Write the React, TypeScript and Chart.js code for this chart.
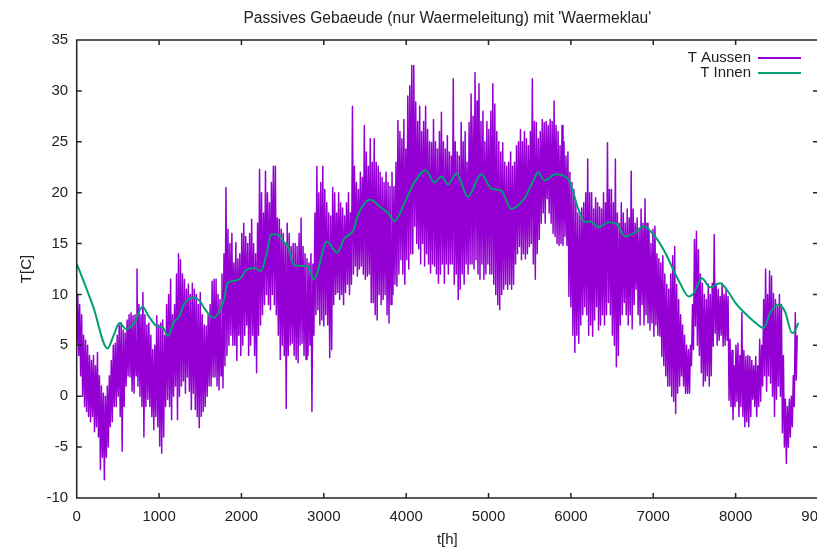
import { useEffect, useRef } from "react";
import { Chart, registerables } from "chart.js";

Chart.register(...registerables);

const TITLE = "Passives Gebaeude (nur Waermeleitung) mit 'Waermeklau'";
const X_LABEL = "t[h]";
const Y_LABEL = "T[C]";
const SERIES_NAMES = ["T Aussen", "T Innen"];
const X_TICKS = [0, 1000, 2000, 3000, 4000, 5000, 6000, 7000, 8000, 9000];
const Y_TICKS = [-10, -5, 0, 5, 10, 15, 20, 25, 30, 35];

// outside temperature: daily highs and lows (day 0 starts at t = 0 h)
const HOURS_PER_DAY = 24;
const aussenHigh = [
  10, 9, 8, 6, 5.5, 5, 4, 3.5, 4, 3,
  4.3, 2, 1, 0.3, 0, 1, 2, 3.5, 5, 5.2,
  6, 7, 7.2, 6.5, 6.2, 7.5, 8, 8.2, 7.9, 8,
  12.5, 9, 8, 10.2, 8, 7, 7.2, 6, 4.6, 5,
  7.9, 7, 7.2, 7.5, 6, 9, 10, 11.5, 8, 9,
  12, 14, 13.4, 12, 11.5, 10.5, 11, 10, 11.1, 10.5,
  10, 9, 10.2, 8, 7, 6.9, 8, 9, 11.3, 11.5,
  11.5, 10, 9.5, 12, 14, 20.5, 16.4, 15, 16, 13.1,
  15.1, 13.5, 14, 16, 17, 15.7, 15, 16, 17.4, 15,
  14, 17, 22.3, 20, 18, 22.1, 20, 19, 21, 22.6,
  22.6, 17.5, 17.4, 16.4, 16, 15, 17, 16, 14.7, 15,
  15, 14.7, 16, 17.5, 14.7, 14, 13.5, 13.1, 14, 13,
  18, 22.6, 20, 21, 22.6, 20.3, 19, 18, 17.7, 20.5,
  20, 18, 20, 19, 18.5, 17.7, 19, 20, 18, 28.5,
  22.6, 21, 20.3, 22, 21.5, 26.6, 24, 22.6, 25.3, 23,
  25.3, 23, 22.6, 22, 21.5, 21, 22, 21, 20.6, 22,
  20.6, 23, 27.1, 26, 25.3, 27.2, 24.3, 29.5, 30.5, 32.5,
  32.5, 28.9, 27, 28.5, 26, 27, 28.5, 26.2, 25, 24.9,
  27.2, 25, 24.3, 26, 27.9, 25, 24.3, 25.6, 24, 23.6,
  31.2, 25, 24, 23.6, 26.9, 25, 26, 23, 26.9, 29.7,
  27.5, 31.8, 29, 30.7, 27, 28, 25, 27, 26.2, 28,
  30.7, 28.7, 26, 25, 24, 24.9, 23, 22.6, 23, 24,
  22.6, 23, 24.6, 25, 26.2, 25, 26, 25.3, 24.6, 26,
  31.2, 27, 26.9, 25.3, 26, 27.2, 26.9, 27, 26.6, 27.2,
  27, 29, 26.6, 26, 24.6, 26.6, 25, 23.6, 24, 22,
  21, 20.3, 19, 18, 17.7, 18.5, 19, 20, 23.3, 20,
  20, 18.4, 19.5, 19, 18.6, 18.4, 20, 19, 24.9, 20.3,
  20.3, 19, 23.3, 18, 17, 19, 18, 17, 18.4, 17.5,
  22.1, 18.4, 17, 17.5, 16.4, 18.4, 17, 19.4, 17, 16.4,
  15, 16.4, 16.7, 14, 13.5, 13.1, 13.8, 12, 11, 10.5,
  12, 13.8, 14.7, 11, 9.5, 8, 7, 6, 5, 4.6,
  5, 9, 15.4, 16.2, 14.4, 12, 11.1, 10, 9.5, 11,
  10, 11.1, 15.9, 11, 10.5, 9.8, 11.1, 10, 10.5, 9.8,
  5.6, 4.5, 3, 5, 5.2, 4, 8.2, 4.5, 3.9, 4,
  3.9, 3.5, 3, 3.9, 3, 5.6, 5, 9.5, 12.5, 10,
  12.3, 11.8, 10.1, 9.5, 8.8, 10, 9, 4, -0.3, -1,
  -0.3, 0, 2, 8.2, 6,
];
const aussenLow = [
  5, 4, 2, 0, -1, -1.5, -2, -2.5, -2, -3.5,
  -3, -4, -7.2, -6, -8.2, -6, -5, -3, -2.5, -1,
  -1, 0, -2, -5.4, -1, 1, 2, 1.9, 0.5, 0.3,
  2, 1, 0, -1, -4, -1, -0.3, -1, -2, -3.3,
  -2, -3, -4.9, -5.6, -4, -1, -0.3, -1, -2.3, 0,
  1, -2.3, 0, 1, 1.5, 0.3, 1.9, 0.5, -1.3, 0.3,
  -1.3, -2, -3.1, -2, -1.5, -1, 0, 1, 1, 1.9,
  1.9, 1, 0.6, 2, 0.8, 3, 4, 5, 6, 5,
  5, 3.5, 6, 4, 5, 6, 7, 4, 5, 6,
  4, 2.3, 6, 7, 8, 9, 10, 9, 8.5, 10,
  9, 8, 6, 3.6, 5, 4, -1.2, 4, 5, 5.2,
  4, 3.6, 3.3, 5, 5.2, 4, 3.6, 4, 5, -1.5,
  6, 8, 8.5, 7, 7.5, 6.9, 8, 7, 3.8, 4.6,
  9, 10, 10.2, 9.5, 10, 9, 10.2, 11, 10, 11,
  12, 12.8, 11.8, 12.5, 12.8, 12, 11.5, 11.8, 12, 9.2,
  9.2, 8, 7.5, 10, 9, 9.5, 10, 8, 7.2, 9,
  10, 11, 10.8, 12, 13.4, 12, 11, 13.4, 12.5, 14,
  14, 16.7, 15, 14.5, 13, 15, 12.8, 14, 13, 12.1,
  13, 12.8, 12, 11.1, 12, 13, 11.1, 13, 12, 13,
  13, 11, 12, 9.5, 10.5, 12, 11, 13, 12, 13,
  13, 12.5, 13.4, 12, 11.5, 13, 11.5, 12, 13, 12,
  12, 11, 10, 9, 8.5, 10, 10.5, 11, 10.5, 11,
  10.5, 11, 13, 14, 14.7, 13.4, 14, 13.5, 14, 14.7,
  15, 13, 11.5, 14, 15.4, 17, 18, 17, 19.4, 18,
  17, 16, 15.7, 15, 14.8, 15, 14.8, 15.7, 14.8, 9.8,
  8.8, 6, 4.3, 6, 5.2, 7, 8, 8.8, 8, 6,
  7, 5.9, 7.5, 8.8, 6.5, 7, 8, 7, 8, 9.2,
  8, 6, 5, 2.9, 4, 7, 8, 9.2, 8, 7,
  8, 6.6, 9, 10.5, 8, 7, 9, 7, 8, 7.2,
  6.5, 7.2, 5.9, 7, 6, 5.9, 3.9, 3, 2, 1,
  1, 0, -0.5, -1.7, 0.3, 1, 2, 1, 0.3, 0.3,
  0.3, 3, 4.6, 6.9, 5, 4, 2.3, 1, 1.5, 2,
  1, 2, 4.9, 6.2, 5, 5.5, 6, 4.9, 5, 5.5,
  -0.4, -1, -2.3, -1, -0.5, -2, -1, -2, -3, -2.5,
  -3, -2, -0.3, -1, -2, -1, -0.5, 1, 2, 0.5,
  2, 1.3, 0, -2, -0.3, 1, 0, -3.6, -5, -6.6,
  -5, -4, -3, -1, 1.6,
];

// inside temperature
const innenHours = [
  0, 60, 200, 375, 445, 520, 600, 700, 800, 870, 970, 1050, 1110, 1175, 1250,
  1300, 1415, 1500, 1545, 1660, 1740, 1790, 1830, 1890, 1990, 2060, 2160, 2235,
  2300, 2360, 2440, 2520, 2560, 2640, 2720, 2800, 2880, 3040, 3160, 3250, 3365,
  3410, 3565, 3700, 3780, 3860, 3980, 4100, 4240, 4340, 4430, 4510, 4610, 4750,
  4910, 5035, 5155, 5275, 5440, 5550, 5600, 5680, 5810, 5970, 6090, 6170, 6230,
  6335, 6455, 6555, 6660, 6780, 6880, 7020, 7145, 7245, 7325, 7430, 7490, 7590,
  7690, 7810, 7890, 7995, 8095, 8215, 8340, 8420, 8520, 8600, 8686, 8720, 8760,
];
const innenTemps = [
  13.0, 11.8, 8.8, 4.7, 5.9, 7.2, 6.6, 7.2, 8.8, 7.9, 6.9, 6.7, 5.9, 7.2, 7.9,
  9.0, 9.7, 9.3, 8.7, 7.7, 8.5, 9.5, 11.1, 11.3, 11.6, 12.4, 12.6, 12.3,
  13.8, 15.9, 15.9, 15.1, 14.8, 12.9, 12.8, 12.8, 11.5, 15.2, 14.1, 15.5, 16.4,
  17.7, 19.3, 18.5, 18.0, 17.2, 19.0, 21.0, 22.2, 21.0, 21.6, 20.8, 21.9, 19.6,
  21.8, 20.4, 20.2, 18.4, 19.5, 21.3, 22.0, 21.2, 21.8, 21.3, 18.4, 17.1, 17.2,
  16.6, 17.1, 16.9, 15.7, 16.1, 16.7, 15.7, 14.1, 12.4, 11.1, 9.8, 10.1, 11.6,
  10.7, 11.1, 10.5, 9.2, 8.3, 7.4, 6.7, 8.2, 9.0, 8.3, 6.2, 6.4, 7.2,
];

const COLOR_AUSSEN = "#9400d3";
const COLOR_INNEN = "#009e73";
const INK = "#222222";
const FONT = "'Liberation Sans', Arial, Helvetica, sans-serif";

const aussenPoints: { x: number; y: number }[] = [];
aussenHigh.forEach((hi, d) => {
  aussenPoints.push({ x: d * HOURS_PER_DAY, y: aussenLow[d] });
  aussenPoints.push({ x: d * HOURS_PER_DAY + HOURS_PER_DAY / 2, y: hi });
});

const framePlugin = {
  id: "gnuFrame",
  afterDatasetsDraw(chart: any) {
    const { ctx, chartArea: a, scales } = chart;
    const xs = scales.x;
    const ys = scales.y;
    ctx.save();
    ctx.strokeStyle = INK;
    ctx.lineWidth = 1.5;
    ctx.strokeRect(a.left, a.top, a.right - a.left, a.bottom - a.top);
    const L = 5;
    ctx.beginPath();
    for (const t of xs.ticks) {
      if (t.value === xs.min || t.value === xs.max) continue;
      const px = xs.getPixelForValue(t.value);
      ctx.moveTo(px, a.bottom);
      ctx.lineTo(px, a.bottom - L);
      ctx.moveTo(px, a.top);
      ctx.lineTo(px, a.top + L);
    }
    for (const t of ys.ticks) {
      if (t.value === ys.min || t.value === ys.max) continue;
      const py = ys.getPixelForValue(t.value);
      ctx.moveTo(a.left, py);
      ctx.lineTo(a.left + L, py);
      ctx.moveTo(a.right, py);
      ctx.lineTo(a.right - L, py);
    }
    ctx.stroke();

    // title
    ctx.fillStyle = INK;
    ctx.font = `15.6px ${FONT}`;
    ctx.textAlign = "center";
    ctx.textBaseline = "middle";
    ctx.fillText(TITLE, (a.left + a.right) / 2, 19);

    // key
    ctx.font = `15px ${FONT}`;
    ctx.textAlign = "right";
    const colors = [COLOR_AUSSEN, COLOR_INNEN];
    SERIES_NAMES.forEach((name, i) => {
      const yy = a.top + 18 + i * 15;
      ctx.fillStyle = INK;
      ctx.fillText(name, a.right - 67, yy);
      ctx.strokeStyle = colors[i];
      ctx.lineWidth = 2;
      ctx.beginPath();
      ctx.moveTo(a.right - 60, yy);
      ctx.lineTo(a.right - 17, yy);
      ctx.stroke();
    });
    ctx.restore();
  },
};

export default function App() {
  const ref = useRef<HTMLCanvasElement | null>(null);

  useEffect(() => {
    if (!ref.current) return;
    const chart = new Chart(ref.current, {
      type: "line",
      data: {
        datasets: [
          {
            label: SERIES_NAMES[0],
            data: aussenPoints,
            borderColor: COLOR_AUSSEN,
            borderWidth: 1.5,
            borderJoinStyle: "round",
            pointRadius: 0,
            tension: 0,
            order: 2,
          },
          {
            label: SERIES_NAMES[1],
            data: innenHours.map((h, i) => ({ x: h, y: innenTemps[i] })),
            borderColor: COLOR_INNEN,
            borderWidth: 2,
            borderJoinStyle: "round",
            pointRadius: 0,
            cubicInterpolationMode: "monotone",
            order: 1,
          },
        ],
      },
      options: {
        animation: false,
        responsive: false,
        events: [],
        layout: { padding: { left: 0, top: 40, right: 32, bottom: 0 } },
        plugins: {
          legend: { display: false },
          title: { display: false },
          tooltip: { enabled: false },
        },
        scales: {
          x: {
            type: "linear",
            min: 0,
            max: 9000,
            afterBuildTicks: (s: any) => {
              s.ticks = X_TICKS.map((v) => ({ value: v }));
            },
            afterFit: (s: any) => {
              s.height = 52;
            },
            grid: { display: false, drawTicks: false },
            border: { display: false },
            ticks: {
              color: INK,
              padding: 10,
              maxRotation: 0,
              font: { family: FONT, size: 15 },
              callback: (v: any) => String(v),
            },
            title: {
              display: true,
              text: X_LABEL,
              color: INK,
              font: { family: FONT, size: 15 },
              padding: { top: 0, bottom: 1 },
            },
          },
          y: {
            type: "linear",
            min: -10,
            max: 35,
            afterBuildTicks: (s: any) => {
              s.ticks = Y_TICKS.map((v) => ({ value: v }));
            },
            afterFit: (s: any) => {
              s.width = 76.7;
            },
            grid: { display: false, drawTicks: false },
            border: { display: false },
            ticks: {
              color: INK,
              padding: 8.5,
              font: { family: FONT, size: 15 },
              callback: (v: any) => String(v),
            },
            title: {
              display: true,
              text: Y_LABEL,
              color: INK,
              font: { family: FONT, size: 15 },
              padding: { top: 18, bottom: 0 },
            },
          },
        },
      },
      plugins: [framePlugin],
    } as any);
    return () => chart.destroy();
  }, []);

  return (
    <div
      style={{
        position: "fixed",
        left: 0,
        top: 0,
        width: 817,
        height: 550,
        overflow: "hidden",
        background: "#ffffff",
      }}
    >
      <canvas ref={ref} width={850} height={550} style={{ display: "block" }} />
    </div>
  );
}
